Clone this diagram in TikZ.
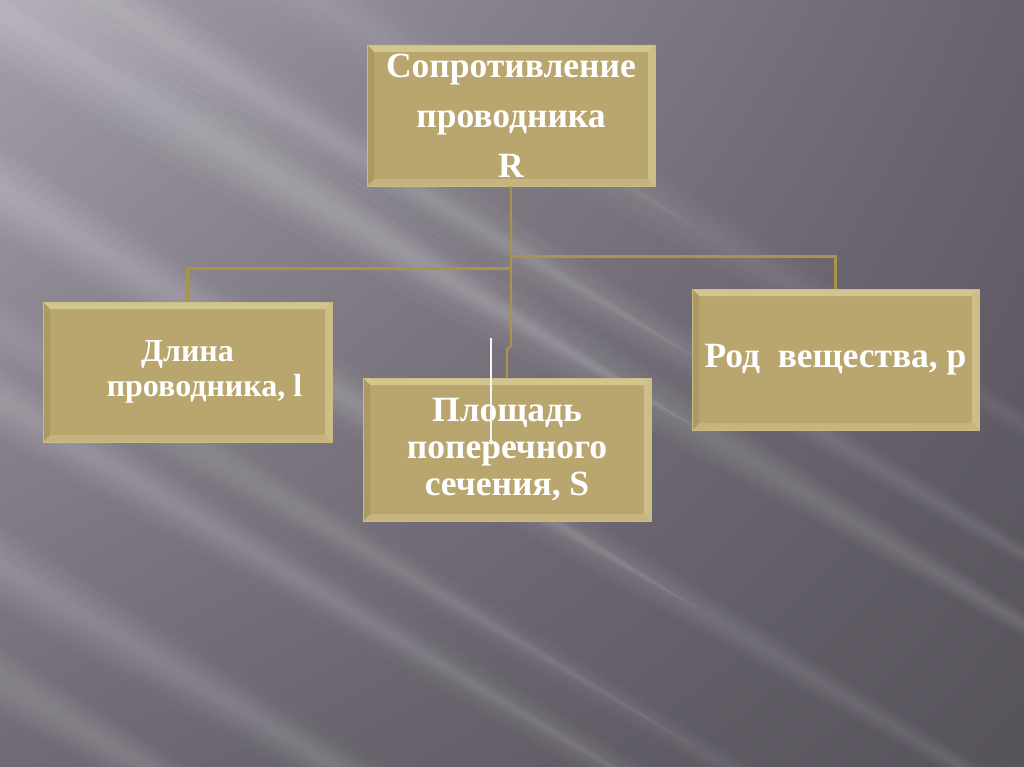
\documentclass[tikz,border=0pt]{standalone}
\usepackage{fontspec}
\setmainfont{Liberation Serif}
\usetikzlibrary{calc,arrows.meta,shadings}
\definecolor{SlideTL}{HTML}{A39EA9}
\definecolor{SlideTR}{HTML}{67626C}
\definecolor{SlideBL}{HTML}{6F6A74}
\definecolor{SlideBR}{HTML}{57535B}
\definecolor{BoxGold}{HTML}{B9A66F}
\definecolor{BoxLight}{HTML}{D3C58F}
\definecolor{BoxShade}{HTML}{9C8A55}
\definecolor{LineGold}{HTML}{A99448}

\tikzset{
  goldbox/.style={
    fill=BoxGold,
    draw=BoxLight!70!BoxGold,
    line width=0.8pt,
    minimum width=288pt,
    minimum height=141pt,
    inner sep=0pt,
    text=white,
    align=center,
    font=\bfseries\fontsize{35.5}{37}\selectfont,
    path picture={
      \fill[BoxLight] (path picture bounding box.north west) -- (path picture bounding box.north east)
        -- ($(path picture bounding box.north east)+(-7pt,-7pt)$) -- ($(path picture bounding box.north west)+(7pt,-7pt)$) -- cycle;
      \fill[BoxLight!75!BoxGold] (path picture bounding box.north east) -- (path picture bounding box.south east)
        -- ($(path picture bounding box.south east)+(-7pt,7pt)$) -- ($(path picture bounding box.north east)+(-7pt,-7pt)$) -- cycle;
      \fill[BoxLight!45!BoxGold] (path picture bounding box.south west) -- (path picture bounding box.south east)
        -- ($(path picture bounding box.south east)+(-7pt,7pt)$) -- ($(path picture bounding box.south west)+(7pt,7pt)$) -- cycle;
      \fill[BoxShade!45!BoxGold] (path picture bounding box.north west) -- (path picture bounding box.south west)
        -- ($(path picture bounding box.south west)+(7pt,7pt)$) -- ($(path picture bounding box.north west)+(7pt,-7pt)$) -- cycle;
    }
  },
  wire/.style={draw=LineGold, line width=2.4pt},
  pointer/.style={draw=white!92!gray, line width=1.1pt, -{Stealth[length=6pt,width=4pt]}}
}

\begin{document}
\begin{tikzpicture}[x=1pt,y=-1pt]
  \useasboundingbox (0,0) rectangle (1024,767);
  \begin{scope}
    \clip (0,0) rectangle (1024,767);
    \shade[upper left=SlideTL, upper right=SlideTR, lower left=SlideBL, lower right=SlideBR] (0,0) rectangle (1024,767);
    % soft light streaks: centre at x=-200 (plus 120) / width / opacity
    \foreach \c/\w/\o in {-190/150/0.12, -60/120/0.16, 10/140/0.18, 190/110/0.16, 330/80/0.10, 400/90/0.14, 565/100/0.14, 680/80/0.10}{
      \pgfmathsetmacro\op{\o/7}
      \foreach \k in {1,0.8,0.6,0.4,0.2}
        \foreach \xe in {700,1300}
          \fill[white,opacity=\op] (-200,{\c-120-\k*\w/2}) -- (-200,{\c-120+\k*\w/2})
            -- (\xe,{\c-120+0.6*(\xe+200)}) -- cycle;
    }
  \end{scope}

  \node[goldbox, font=\bfseries\fontsize{35.5}{50}\selectfont] (rtop) at (511,115.5) {Сопротивление\\проводника\\R};
  \node[goldbox, minimum width=289pt, minimum height=140pt, font=\bfseries\fontsize{32}{35}\selectfont] (rlen) at (187.5,372) {Длина\\\hspace*{34pt}проводника, l};
  \node[goldbox, minimum height=143pt] (rarea) at (507,449.5) {Площадь\\поперечного\\сечения, S};
  \node[goldbox, minimum width=287pt] (rmat) at (835.5,359.5) {Род~~вещества, р};

  \draw[wire] (rtop.south) -- ($(rtop.south)+(0,159)$) -- ($(rarea.north)+(0,-28)$) -- (rarea.north);
  \draw[wire] (rlen.north) |- ($(rtop.south)+(0,82)$);
  \draw[wire] (rmat.north) |- ($(rtop.south)+(0,70)$);

  \coordinate (ptrA) at (491,338);
  \coordinate (ptrB) at (491,446);
  \draw[pointer] (ptrA) -- (ptrB);
\end{tikzpicture}
\end{document}
